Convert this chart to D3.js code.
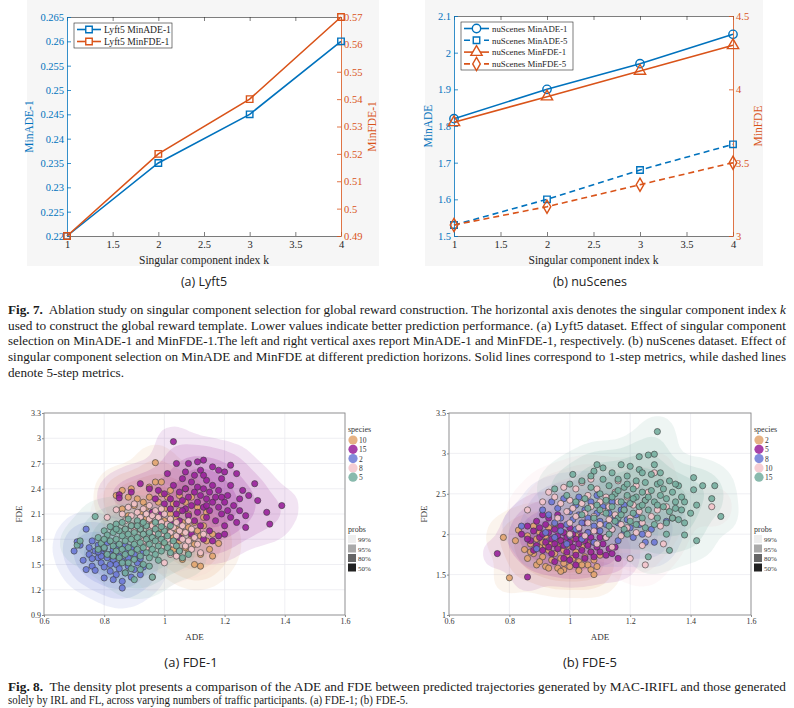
<!DOCTYPE html>
<html>
<head>
<meta charset="utf-8">
<script src="https://cdn.jsdelivr.net/npm/d3@7"></script>
<style>
body { margin: 0; background: #fff; }
svg { display: block; }
</style>
</head>
<body>
<script>
// ---- data: top line charts ----
const ks = [1, 2, 3, 4];
const kTicks = [1, 1.5, 2, 2.5, 3, 3.5, 4];

const lyftADE1 = [0.22, 0.235, 0.245, 0.26];
const lyftFDE1 = [0.49, 0.52, 0.54, 0.57];
const lyftLeftTicks = [0.22, 0.225, 0.23, 0.235, 0.24, 0.245, 0.25, 0.255, 0.26, 0.265];
const lyftRightTicks = [0.49, 0.5, 0.51, 0.52, 0.53, 0.54, 0.55, 0.56, 0.57];

const nuADE1 = [1.82, 1.90, 1.97, 2.05];
const nuADE5 = [1.53, 1.60, 1.68, 1.75];
const nuFDE1 = [3.775, 3.95, 4.125, 4.30];
const nuFDE5 = [3.075, 3.20, 3.35, 3.50];
const nuLeftTicks = [1.5, 1.6, 1.7, 1.8, 1.9, 2, 2.1];
const nuRightTicks = [3, 3.5, 4, 4.5];

// ---- data: density scatter plots (ADE, FDE pairs) ----
const adeTicks = [0.6, 0.8, 1, 1.2, 1.4, 1.6];
const fde1Ticks = [0.9, 1.2, 1.5, 1.8, 2.1, 2.4, 2.7, 3, 3.3];
const fde5Ticks = [1, 1.5, 2, 2.5, 3, 3.5];
const probLabels = ["99%", "95%", "80%", "50%"];

const fde1Species = ["10", "15", "2", "8", "5"];
const fde5Species = ["2", "5", "8", "10", "15"];

const fde1S10 = [0.84,2.32, 0.86,2.38, 0.88,2.30, 0.89,2.40, 0.86,2.16, 0.90,2.20, 0.91,2.28, 0.92,2.12, 0.93,2.24, 0.94,2.04, 0.94,2.18, 0.95,2.30, 0.96,1.98, 0.96,2.12, 0.97,2.48, 0.97,2.71, 0.98,2.24, 0.98,2.06, 0.99,2.48, 0.99,1.92, 1.00,2.16, 1.00,2.02, 1.01,2.30, 1.01,1.88, 1.02,2.10, 1.02,1.96, 1.03,2.22, 1.03,1.82, 1.04,2.04, 1.04,1.92, 1.05,2.14, 1.05,1.78, 1.06,2.00, 1.06,1.88, 1.07,2.24, 1.07,1.70, 1.08,1.94, 1.08,2.10, 1.09,1.82, 1.09,2.30, 1.10,2.00, 1.10,1.74, 1.11,1.90, 1.11,2.18, 1.12,1.84, 1.12,1.62, 1.13,1.96, 1.13,2.06, 1.14,1.78, 1.15,1.68, 1.16,1.60, 1.10,1.50, 1.12,1.48, 1.06,1.56, 1.08,1.64, 0.92,1.92, 0.95,2.42, 1.02,2.38, 1.05,2.32, 0.99,2.34, 1.14,2.12, 1.16,1.86, 1.03,1.68, 1.00,1.74, 0.88,2.08, 1.18,1.75, 1.07,2.40];
const fde1S15 = [0.85,2.33, 0.85,2.29, 0.89,2.36, 0.92,2.46, 0.95,2.40, 0.97,2.28, 0.98,2.38, 1.00,2.22, 1.00,2.34, 1.01,2.58, 1.02,2.16, 1.02,2.28, 1.03,2.96, 1.03,2.44, 1.04,2.70, 1.04,2.10, 1.04,2.22, 1.05,2.36, 1.05,2.02, 1.06,2.52, 1.06,2.26, 1.07,2.16, 1.07,2.40, 1.08,2.08, 1.08,2.30, 1.08,2.70, 1.09,2.48, 1.09,2.20, 1.10,2.02, 1.10,2.36, 1.10,2.56, 1.11,2.24, 1.11,2.12, 1.11,2.42, 1.12,2.32, 1.12,1.96, 1.12,2.62, 1.13,2.18, 1.13,2.40, 1.13,2.74, 1.14,2.28, 1.14,2.06, 1.14,2.50, 1.15,2.36, 1.15,2.14, 1.15,1.90, 1.16,2.24, 1.16,2.44, 1.16,2.66, 1.17,2.30, 1.17,2.02, 1.18,2.18, 1.18,2.38, 1.19,2.10, 1.19,2.52, 1.20,2.24, 1.20,1.96, 1.21,2.32, 1.21,2.14, 1.22,2.06, 1.22,2.44, 1.23,2.20, 1.24,2.00, 1.25,2.28, 1.25,2.14, 1.26,2.38, 1.27,2.08, 1.28,2.32, 1.30,2.46, 1.31,2.26, 1.34,2.12, 1.35,1.98, 1.39,2.20, 1.20,1.86, 1.18,1.84, 1.16,1.78, 1.13,1.80, 1.09,1.86, 1.05,1.82, 1.27,1.94, 1.24,2.58, 1.22,2.68, 1.20,2.60, 1.13,2.56, 1.07,2.60, 1.02,2.00, 0.99,2.10, 0.96,2.12, 1.18,2.62, 1.11,2.72, 1.06,2.14, 1.14,2.20, 1.19,2.30];
const fde1S2 = [0.71,1.77, 0.72,1.73, 0.70,1.66, 0.73,1.55, 0.74,1.92, 0.75,1.70, 0.75,1.62, 0.76,1.48, 0.76,1.78, 0.77,1.43, 0.77,1.66, 0.78,1.58, 0.78,1.73, 0.79,1.52, 0.79,1.64, 0.80,1.34, 0.80,1.69, 0.80,1.47, 0.81,1.58, 0.81,1.76, 0.82,1.62, 0.82,1.42, 0.83,1.55, 0.83,1.68, 0.84,1.38, 0.84,1.50, 0.84,1.72, 0.85,1.60, 0.85,1.45, 0.86,1.22, 0.86,1.30, 0.86,1.54, 0.87,1.66, 0.87,1.40, 0.88,1.48, 0.88,1.58, 0.89,1.35, 0.89,1.70, 0.90,1.44, 0.90,1.62, 0.91,1.52, 0.92,1.38, 0.92,1.57, 0.93,1.47, 0.79,1.60, 0.76,1.57, 0.74,1.44, 0.82,1.50, 0.87,1.73, 0.78,1.65, 0.83,1.32, 0.93,1.64];
const fde1S8 = [0.81,2.06, 0.84,2.15, 0.86,2.10, 0.87,2.02, 0.88,2.18, 0.89,1.96, 0.89,2.08, 0.90,2.22, 0.91,2.00, 0.91,2.12, 0.92,1.92, 0.92,2.06, 0.93,2.16, 0.93,1.86, 0.94,1.98, 0.94,2.10, 0.95,1.90, 0.95,2.04, 0.95,2.20, 0.96,1.82, 0.96,1.96, 0.96,2.08, 0.97,1.88, 0.97,2.02, 0.97,2.14, 0.98,1.78, 0.98,1.94, 0.98,2.06, 0.99,1.86, 0.99,2.00, 0.99,1.70, 1.00,1.92, 1.00,2.10, 1.01,1.80, 1.01,1.98, 1.02,1.88, 1.02,2.04, 1.03,1.74, 1.03,1.94, 1.04,1.84, 1.04,2.00, 1.05,1.90, 1.05,1.66, 1.06,1.80, 1.06,1.96, 1.07,1.72, 1.07,1.88, 1.08,1.78, 1.09,1.68, 1.09,1.92, 1.10,1.82, 1.11,1.74, 1.12,1.64, 1.00,1.52, 0.96,1.35, 1.04,1.60, 0.90,1.90, 0.93,1.78, 1.13,1.86, 1.08,2.02, 0.99,2.16, 0.87,1.92, 1.02,1.62, 0.94,1.70];
const fde1S5 = [0.71,1.73, 0.72,1.78, 0.77,2.07, 0.78,1.82, 0.79,1.75, 0.80,1.90, 0.80,1.70, 0.81,1.85, 0.81,1.62, 0.82,1.78, 0.82,1.95, 0.83,1.72, 0.83,1.88, 0.84,1.66, 0.84,1.80, 0.84,1.98, 0.85,1.74, 0.85,1.90, 0.85,1.58, 0.86,1.84, 0.86,1.68, 0.86,2.00, 0.87,1.78, 0.87,1.62, 0.87,1.92, 0.88,1.70, 0.88,1.86, 0.88,1.52, 0.89,1.80, 0.89,1.96, 0.89,1.64, 0.90,1.74, 0.90,1.88, 0.90,1.56, 0.91,1.82, 0.91,1.68, 0.91,2.02, 0.92,1.76, 0.92,1.92, 0.92,1.60, 0.93,1.86, 0.93,1.70, 0.93,1.50, 0.94,1.80, 0.94,1.64, 0.94,1.96, 0.95,1.74, 0.95,1.88, 0.95,1.58, 0.96,1.82, 0.96,1.68, 0.96,1.35, 0.97,1.78, 0.97,1.92, 0.97,1.62, 0.98,1.72, 0.98,1.86, 0.98,1.55, 0.99,1.80, 0.99,1.66, 1.00,1.76, 1.00,1.90, 1.01,1.70, 1.01,1.84, 1.02,1.64, 1.03,1.78, 1.04,1.72, 1.05,1.66, 1.06,1.58, 1.08,1.62, 0.83,1.60, 0.86,1.52, 0.89,1.45, 0.92,1.44, 0.95,1.48, 0.80,1.80, 0.78,1.68, 0.88,2.04, 0.93,2.00, 0.97,2.00, 1.02,1.96, 0.99,1.95, 0.91,1.96, 0.84,1.92, 0.87,1.40, 0.90,1.32];

const fde5S2 = [0.78,1.96, 0.80,1.46, 0.82,1.92, 0.83,2.05, 0.85,1.81, 0.86,1.70, 0.86,1.98, 0.87,1.88, 0.88,2.10, 0.88,1.76, 0.89,1.94, 0.89,1.62, 0.90,1.84, 0.90,2.02, 0.91,1.72, 0.91,1.90, 0.92,1.60, 0.92,1.98, 0.93,1.80, 0.93,2.08, 0.94,1.68, 0.94,1.88, 0.95,1.76, 0.95,1.96, 0.96,1.58, 0.96,1.84, 0.97,1.70, 0.97,1.92, 0.98,1.64, 0.98,1.80, 0.99,1.74, 0.99,2.00, 1.00,1.60, 1.00,1.86, 1.01,1.70, 1.01,1.94, 1.02,1.78, 1.03,1.55, 1.03,1.66, 1.04,1.84, 1.05,1.72, 1.06,1.62, 1.07,1.56, 1.07,1.78, 1.08,1.50, 1.08,1.68, 1.09,1.60, 1.10,1.74, 0.93,1.58, 0.98,1.56, 0.90,1.66, 0.95,2.12, 1.02,1.98, 0.87,1.78, 1.04,1.62, 0.92,1.86, 0.97,1.54, 1.06,1.88];
const fde5S5 = [0.76,1.76, 0.86,1.47, 0.84,2.00, 0.86,2.10, 0.87,1.92, 0.88,2.04, 0.89,1.86, 0.89,2.16, 0.90,1.96, 0.90,2.08, 0.91,1.80, 0.91,2.00, 0.92,1.90, 0.92,2.12, 0.93,1.84, 0.93,2.02, 0.94,1.94, 0.94,1.76, 0.95,2.06, 0.95,1.88, 0.96,1.98, 0.96,1.82, 0.97,2.10, 0.97,1.92, 0.98,1.86, 0.98,2.02, 0.99,1.78, 0.99,1.96, 1.00,1.90, 1.00,2.08, 1.01,1.84, 1.01,2.00, 1.02,1.94, 1.02,1.74, 1.03,1.88, 1.03,2.06, 1.04,1.80, 1.04,1.98, 1.05,1.92, 1.05,1.70, 1.06,1.86, 1.06,2.02, 1.07,1.78, 1.07,1.96, 1.08,1.90, 1.08,1.72, 1.09,1.84, 1.10,1.78, 1.10,1.96, 1.11,1.88, 1.12,1.74, 1.13,1.82, 1.14,1.76, 1.15,1.84, 0.93,2.20, 0.96,2.24, 0.88,1.80, 1.00,1.68, 1.02,1.62, 0.95,1.66, 1.05,2.14, 1.09,2.04, 0.91,2.24, 0.98,1.70, 1.12,1.96, 0.86,1.94, 1.16,1.70];
const fde5S8 = [0.84,2.10, 0.89,1.82, 0.91,2.30, 0.93,2.24, 0.94,2.40, 0.95,2.14, 0.96,2.32, 0.97,2.04, 0.97,2.20, 0.98,2.44, 0.99,2.12, 1.00,2.28, 1.00,1.98, 1.01,2.18, 1.02,2.36, 1.02,2.06, 1.03,2.24, 1.04,1.94, 1.04,2.14, 1.05,2.30, 1.06,2.02, 1.06,2.20, 1.07,2.40, 1.08,2.10, 1.08,1.90, 1.09,2.26, 1.10,2.04, 1.10,2.16, 1.11,2.34, 1.12,1.96, 1.12,2.12, 1.13,2.26, 1.14,2.06, 1.15,2.20, 1.16,1.92, 1.16,2.14, 1.17,2.30, 1.18,2.02, 1.19,2.18, 1.20,2.08, 1.21,1.96, 1.22,2.24, 1.23,2.12, 1.24,2.00, 1.25,1.90, 1.27,2.06, 1.28,1.90, 1.32,2.16, 0.92,2.02, 0.99,1.88, 1.03,2.46, 1.09,2.48, 0.95,1.96, 1.14,2.40, 1.18,2.36];
const fde5S10 = [0.86,2.30, 0.93,2.52, 0.95,2.46, 0.96,2.20, 0.97,2.38, 0.98,2.58, 0.99,2.28, 1.00,2.14, 1.00,2.42, 1.01,2.32, 1.02,2.56, 1.02,2.22, 1.03,2.08, 1.04,2.38, 1.04,2.64, 1.05,2.26, 1.06,2.14, 1.06,2.48, 1.07,2.34, 1.08,2.04, 1.08,2.22, 1.09,2.56, 1.10,2.40, 1.10,2.12, 1.11,2.28, 1.12,1.96, 1.12,2.46, 1.13,2.18, 1.13,2.34, 1.14,2.06, 1.15,2.52, 1.15,2.24, 1.16,2.40, 1.17,2.12, 1.17,1.98, 1.18,2.30, 1.19,2.46, 1.19,2.08, 1.20,2.20, 1.20,1.70, 1.21,2.36, 1.22,2.02, 1.23,2.28, 1.24,1.86, 1.24,2.14, 1.25,2.42, 1.26,2.00, 1.27,2.22, 1.28,2.76, 1.29,2.30, 1.30,2.10, 1.31,1.88, 1.32,2.34, 1.25,1.62, 1.47,2.34, 1.05,1.98, 1.09,1.88, 1.14,1.84, 1.00,2.00, 1.22,2.60, 1.16,2.66, 1.34,2.20, 1.26,2.52, 1.07,2.68, 0.91,2.40];
const fde5S15 = [0.95,2.56, 1.01,2.74, 1.04,2.66, 1.05,2.44, 1.07,2.58, 1.08,2.78, 1.09,2.86, 1.09,2.36, 1.10,2.50, 1.11,2.68, 1.12,2.26, 1.12,2.42, 1.13,2.60, 1.14,2.76, 1.14,2.34, 1.15,2.50, 1.16,2.68, 1.16,2.20, 1.17,2.40, 1.17,2.86, 1.18,2.58, 1.18,2.30, 1.19,2.48, 1.19,2.72, 1.20,2.16, 1.20,2.38, 1.20,2.84, 1.21,2.56, 1.21,2.26, 1.22,2.46, 1.22,2.66, 1.23,2.34, 1.23,2.80, 1.23,2.96, 1.24,2.52, 1.24,2.20, 1.25,2.42, 1.25,2.64, 1.26,2.98, 1.26,2.30, 1.27,2.54, 1.27,2.74, 1.28,2.40, 1.28,2.86, 1.28,2.99, 1.29,3.27, 1.29,2.20, 1.29,2.62, 1.30,2.48, 1.30,2.76, 1.31,2.34, 1.31,2.56, 1.32,2.14, 1.32,2.44, 1.33,2.66, 1.33,2.28, 1.34,2.52, 1.34,2.20, 1.35,2.40, 1.36,2.60, 1.37,2.30, 1.38,2.14, 1.38,2.40, 1.38,1.99, 1.40,2.26, 1.41,2.70, 1.41,2.55, 1.42,2.36, 1.42,1.92, 1.44,2.60, 1.47,2.44, 1.48,2.60, 1.50,2.22, 1.33,1.80, 1.26,1.72, 1.28,2.12, 1.25,2.08, 1.22,2.12, 1.18,2.06, 1.15,2.16, 1.13,2.10, 1.10,2.30, 1.08,2.20, 1.06,2.32, 1.04,2.24, 1.02,2.40, 0.99,2.48, 1.00,2.62, 1.11,2.82, 1.07,2.72, 1.35,2.62, 1.36,2.18, 1.30,2.64, 1.24,2.76, 1.19,2.62, 1.16,2.54, 1.21,2.44, 1.26,2.46, 1.32,2.00, 1.19,2.00, 1.13,2.00, 1.37,2.46, 1.35,2.32, 1.29,2.36, 1.24,2.36, 1.14,2.46, 1.17,2.24];

const blue = "#0072BD", orange = "#D95319";
const palette = ["#E2A46E", "#98209A", "#6B78D6", "#F4C4CB", "#74AE9F"];
const probGrays = ["#eeeeee", "#aaaaaa", "#666666", "#222222"];
const levelOpacity = [0.12, 0.15, 0.18, 0.2];
const serif = "'Liberation Serif', 'Times New Roman', serif";
const sans = "'Open Sans', 'Noto Sans', sans-serif";

function pairs(flat) {
  const out = [];
  for (let i = 0; i < flat.length; i += 2) out.push([flat[i], flat[i + 1]]);
  return out;
}

const svg = d3.select("body").append("svg")
  .attr("width", 794).attr("height", 708);

// ---------- dual axis line charts ----------
function lineChart(c) {
  const g = svg.append("g");
  g.append("rect").attr("x", c.bg[0]).attr("y", c.bg[1])
    .attr("width", c.bg[2]).attr("height", c.bg[3]).attr("fill", "#f6f6f6");
  g.append("rect").attr("x", c.x0).attr("y", c.y0)
    .attr("width", c.x1 - c.x0).attr("height", c.y1 - c.y0).attr("fill", "#fff");

  const x = d3.scaleLinear().domain([1, 4]).range([c.x0, c.x1]);
  const yL = d3.scaleLinear().domain(c.leftDomain).range([c.y1, c.y0]);
  const yR = d3.scaleLinear().domain(c.rightDomain).range([c.y1, c.y0]);
  const fmt = d => String(+d.toFixed(4));

  const axB = g.append("g").attr("transform", `translate(0,${c.y1})`)
    .call(d3.axisBottom(x).tickValues(kTicks).tickFormat(fmt).tickSizeInner(-4).tickSizeOuter(0).tickPadding(5));
  const axT = g.append("g").attr("transform", `translate(0,${c.y0})`)
    .call(d3.axisTop(x).tickValues(kTicks).tickFormat("").tickSizeInner(-4).tickSizeOuter(0));
  [axB, axT].forEach(a => {
    a.selectAll("path,line").attr("stroke", "#262626").attr("stroke-width", 0.6);
    a.selectAll("text").attr("fill", "#262626");
  });
  const axL = g.append("g").attr("transform", `translate(${c.x0},0)`)
    .call(d3.axisLeft(yL).tickValues(c.leftTicks).tickFormat(fmt).tickSizeInner(-4).tickSizeOuter(0).tickPadding(3));
  const axR = g.append("g").attr("transform", `translate(${c.x1},0)`)
    .call(d3.axisRight(yR).tickValues(c.rightTicks).tickFormat(fmt).tickSizeInner(-4).tickSizeOuter(0).tickPadding(3));
  axL.selectAll("path,line").attr("stroke", blue).attr("stroke-width", 0.8);
  axL.selectAll("text").attr("fill", blue);
  axR.selectAll("path,line").attr("stroke", orange).attr("stroke-width", 0.8);
  axR.selectAll("text").attr("fill", orange);
  g.selectAll(".tick text").attr("font-family", serif).attr("font-size", 10.5);

  g.append("text").attr("x", (c.x0 + c.x1) / 2).attr("y", c.y1 + 28)
    .attr("text-anchor", "middle").attr("font-family", serif).attr("font-size", 11.5)
    .attr("fill", "#262626").text("Singular component index k");
  g.append("text").attr("transform", `translate(${c.leftLabelX},${(c.y0 + c.y1) / 2}) rotate(-90)`)
    .attr("text-anchor", "middle").attr("font-family", serif).attr("font-size", 11.5)
    .attr("fill", blue).text(c.leftLabel);
  g.append("text").attr("transform", `translate(${c.rightLabelX},${(c.y0 + c.y1) / 2}) rotate(-90)`)
    .attr("text-anchor", "middle").attr("font-family", serif).attr("font-size", 11.5)
    .attr("fill", orange).text(c.rightLabel);

  c.series.forEach(s => {
    const y = s.axis === "left" ? yL : yR;
    const line = d3.line().x((d, i) => x(ks[i])).y(d => y(d));
    g.append("path").datum(s.values).attr("d", line).attr("fill", "none")
      .attr("stroke", s.color).attr("stroke-width", 1.6)
      .attr("stroke-dasharray", s.dash ? "6,4" : null);
    g.selectAll(null).data(s.values).enter().append("path")
      .attr("transform", (d, i) => `translate(${x(ks[i])},${y(d)})`)
      .attr("d", d3.symbol().type(s.symbol).size(s.size))
      .attr("fill", "none").attr("stroke", s.color).attr("stroke-width", 1.4);
  });

  // legend
  const lg = g.append("g");
  lg.append("rect").attr("x", c.legend[0]).attr("y", c.legend[1])
    .attr("width", c.legend[2]).attr("height", c.legend[3])
    .attr("fill", "#fff").attr("stroke", "#262626").attr("stroke-width", 0.6);
  c.series.forEach((s, i) => {
    const ly = c.legend[1] + c.legendRow0 + i * c.legendStep;
    const lx = c.legend[0] + 3;
    lg.append("line").attr("x1", lx).attr("x2", lx + c.sampleW).attr("y1", ly).attr("y2", ly)
      .attr("stroke", s.color).attr("stroke-width", 1.6)
      .attr("stroke-dasharray", s.dash ? "6,4" : null);
    lg.append("path").attr("transform", `translate(${lx + c.sampleW / 2},${ly})`)
      .attr("d", d3.symbol().type(s.symbol).size(s.size))
      .attr("fill", "#fff").attr("stroke", s.color).attr("stroke-width", 1.4);
    lg.append("text").attr("x", lx + c.sampleW + 3).attr("y", ly + 3.3)
      .attr("font-family", serif).attr("font-size", c.legendFont).attr("fill", "#262626").text(s.name);
  });

  svg.append("text").attr("x", c.capX).attr("y", 286).attr("text-anchor", "middle")
    .attr("font-family", sans).attr("font-size", 12.5).attr("fill", "#222").text(c.caption);
}

lineChart({
  bg: [27, 0, 352, 266], x0: 67, x1: 341, y0: 17, y1: 236,
  leftDomain: [0.22, 0.265], rightDomain: [0.49, 0.57],
  leftTicks: lyftLeftTicks, rightTicks: lyftRightTicks,
  leftLabel: "MinADE-1", rightLabel: "MinFDE-1", leftLabelX: 33, rightLabelX: 376,
  series: [
    { name: "Lyft5 MinADE-1", values: lyftADE1, axis: "left", color: blue, symbol: d3.symbolSquare, size: 42 },
    { name: "Lyft5 MinFDE-1", values: lyftFDE1, axis: "right", color: orange, symbol: d3.symbolSquare, size: 42 }
  ],
  legend: [74, 23, 98, 25], legendRow0: 6.5, legendStep: 12, sampleW: 24, legendFont: 9.6,
  capX: 204, caption: "(a) Lyft5"
});

lineChart({
  bg: [425, 0, 338, 266], x0: 454, x1: 733, y0: 16, y1: 236,
  leftDomain: [1.5, 2.1], rightDomain: [3, 4.5],
  leftTicks: nuLeftTicks, rightTicks: nuRightTicks,
  leftLabel: "MinADE", rightLabel: "MinFDE", leftLabelX: 432, rightLabelX: 762,
  series: [
    { name: "nuScenes MinADE-1", values: nuADE1, axis: "left", color: blue, symbol: d3.symbolCircle, size: 55 },
    { name: "nuScenes MinADE-5", values: nuADE5, axis: "left", color: blue, symbol: d3.symbolSquare, size: 42, dash: true },
    { name: "nuScenes MinFDE-1", values: nuFDE1, axis: "right", color: orange, symbol: d3.symbolTriangle, size: 55 },
    { name: "nuScenes MinFDE-5", values: nuFDE5, axis: "right", color: orange, symbol: d3.symbolDiamond, size: 50, dash: true }
  ],
  legend: [461, 22, 112, 48], legendRow0: 6.5, legendStep: 11.8, sampleW: 25, legendFont: 8.8,
  capX: 590, caption: "(b) nuScenes"
});

// ---------- density scatter plots ----------
function densityPlot(c) {
  const g = svg.append("g");
  const w = c.x1 - c.x0, h = c.y1 - c.y0;
  const x = d3.scaleLinear().domain([0.6, 1.6]).range([c.x0, c.x1]);
  const y = d3.scaleLinear().domain(c.yDomain).range([c.y1, c.y0]);
  const id = "clip" + c.x0;
  svg.append("clipPath").attr("id", id).append("rect")
    .attr("x", c.x0).attr("y", c.y0).attr("width", w).attr("height", h);

  g.selectAll(null).data(adeTicks).enter().append("line")
    .attr("x1", d => x(d)).attr("x2", d => x(d)).attr("y1", c.y0).attr("y2", c.y1)
    .attr("stroke", "#ebebf0").attr("stroke-width", 0.8);
  g.selectAll(null).data(c.yTicks).enter().append("line")
    .attr("x1", c.x0).attr("x2", c.x1).attr("y1", d => y(d)).attr("y2", d => y(d))
    .attr("stroke", "#ebebf0").attr("stroke-width", 0.8);

  const groups = c.sets.map(flat => pairs(flat));
  const dens = g.append("g").attr("clip-path", `url(#${id})`);
  groups.forEach((pts, i) => {
    const base = d3.contourDensity()
      .x(d => x(d[0]) - c.x0).y(d => y(d[1]) - c.y0)
      .size([w, h]).bandwidth(c.bw);
    const probe = base.thresholds(40)(pts);
    const max = d3.max(probe, p => p.value);
    const levels = [0.03, 0.12, 0.32, 0.6].map(f => f * max);
    const contours = base.thresholds(levels)(pts);
    dens.append("g").attr("transform", `translate(${c.x0},${c.y0})`)
      .selectAll("path").data(contours).enter().append("path")
      .attr("d", d3.geoPath()).attr("fill", palette[i])
      .attr("fill-opacity", (d, j) => levelOpacity[j]);
  });
  const dots = g.append("g").attr("clip-path", `url(#${id})`);
  groups.forEach((pts, i) => {
    dots.selectAll(null).data(pts).enter().append("circle")
      .attr("cx", d => x(d[0])).attr("cy", d => y(d[1])).attr("r", 3.1)
      .attr("fill", palette[i]).attr("fill-opacity", 0.9)
      .attr("stroke", "#3a3a3a").attr("stroke-width", 0.6);
  });

  g.append("rect").attr("x", c.x0).attr("y", c.y0).attr("width", w).attr("height", h)
    .attr("fill", "none").attr("stroke", "#8c8c8c").attr("stroke-width", 0.9);

  const ax = g.append("g").attr("transform", `translate(0,${c.y1})`)
    .call(d3.axisBottom(x).tickValues(adeTicks).tickFormat(d => String(+d.toFixed(1))).tickSize(2).tickSizeOuter(0).tickPadding(1));
  const ay = g.append("g").attr("transform", `translate(${c.x0},0)`)
    .call(d3.axisLeft(y).tickValues(c.yTicks).tickFormat(d => String(+d.toFixed(1))).tickSize(2).tickSizeOuter(0).tickPadding(1));
  [ax, ay].forEach(a => {
    a.select(".domain").remove();
    a.selectAll("line").attr("stroke", "#8c8c8c");
    a.selectAll("text").attr("font-family", serif).attr("font-size", 8).attr("fill", "#333");
  });

  g.append("text").attr("x", (c.x0 + c.x1) / 2).attr("y", c.y1 + 25).attr("text-anchor", "middle")
    .attr("font-family", serif).attr("font-size", 9).attr("fill", "#333").text("ADE");
  g.append("text").attr("transform", `translate(${c.fdeX},${(c.y0 + c.y1) / 2}) rotate(-90)`)
    .attr("text-anchor", "middle").attr("font-family", serif).attr("font-size", 9)
    .attr("fill", "#333").text("FDE");

  // legends
  const lx = c.x1 + 3;
  g.append("text").attr("x", lx).attr("y", 432).attr("font-family", serif)
    .attr("font-size", 8).attr("fill", "#333").text("species");
  c.species.forEach((s, i) => {
    const ly = 440 + i * 9.3;
    g.append("circle").attr("cx", lx + 5).attr("cy", ly).attr("r", 4.6)
      .attr("fill", palette[i]).attr("fill-opacity", 0.85);
    g.append("text").attr("x", lx + 11).attr("y", ly + 3).attr("font-family", serif)
      .attr("font-size", 7.5).attr("fill", "#333").text(s);
  });
  g.append("text").attr("x", lx).attr("y", 532).attr("font-family", serif)
    .attr("font-size", 8).attr("fill", "#333").text("probs");
  probLabels.forEach((p, i) => {
    const ly = 539 + i * 9.5;
    g.append("rect").attr("x", lx).attr("y", ly - 4).attr("width", 8).attr("height", 8)
      .attr("fill", probGrays[i]);
    g.append("text").attr("x", lx + 10).attr("y", ly + 3).attr("font-family", serif)
      .attr("font-size", 7).attr("fill", "#333").text(p);
  });

  svg.append("text").attr("x", c.capX).attr("y", 667).attr("text-anchor", "middle")
    .attr("font-family", sans).attr("font-size", 13).attr("fill", "#222").text(c.caption);
}

densityPlot({
  x0: 44, x1: 345, y0: 413, y1: 615, yDomain: [0.9, 3.3], yTicks: fde1Ticks,
  sets: [fde1S10, fde1S15, fde1S2, fde1S8, fde1S5], species: fde1Species,
  bw: 11, fdeX: 22, capX: 191, caption: "(a) FDE-1"
});
densityPlot({
  x0: 449, x1: 751, y0: 413, y1: 615, yDomain: [1, 3.5], yTicks: fde5Ticks,
  sets: [fde5S2, fde5S5, fde5S8, fde5S10, fde5S15], species: fde5Species,
  bw: 11, fdeX: 427, capX: 590, caption: "(b) FDE-5"
});

// ---------- figure captions ----------
function captionLine(yy, parts, len) {
  const t = svg.append("text").attr("x", 8).attr("y", yy)
    .attr("font-family", serif).attr("font-size", 11.5).attr("fill", "#1a1a1a");
  if (len) t.attr("textLength", len).attr("lengthAdjust", "spacingAndGlyphs");
  parts.forEach(p => {
    const s = t.append("tspan").text(p.t);
    if (p.b) s.attr("font-weight", "bold");
    if (p.i) s.attr("font-style", "italic");
  });
}
captionLine(314, [{ t: "Fig. 7.", b: true }, { t: "\u00a0 Ablation study on singular component selection for global reward construction. The horizontal axis denotes the singular component index " }, { t: "k", i: true }], 778);
captionLine(330, [{ t: "used to construct the global reward template. Lower values indicate better prediction performance. (a) Lyft5 dataset. Effect of singular component" }], 778);
captionLine(345, [{ t: "selection on MinADE-1 and MinFDE-1.The left and right vertical axes report MinADE-1 and MinFDE-1, respectively. (b) nuScenes dataset. Effect of" }], 778);
captionLine(361, [{ t: "singular component selection on MinADE and MinFDE at different prediction horizons. Solid lines correspond to 1-step metrics, while dashed lines" }], 778);
captionLine(377, [{ t: "denote 5-step metrics." }], 116);
captionLine(691, [{ t: "Fig. 8.", b: true }, { t: "\u00a0 The density plot presents a comparison of the ADE and FDE between predicted trajectories generated by MAC-IRIFL and those generated" }], 778);
captionLine(704, [{ t: "solely by IRL and FL, across varying numbers of traffic participants. (a) FDE-1; (b) FDE-5." }], 400);
</script>
</body>
</html>
